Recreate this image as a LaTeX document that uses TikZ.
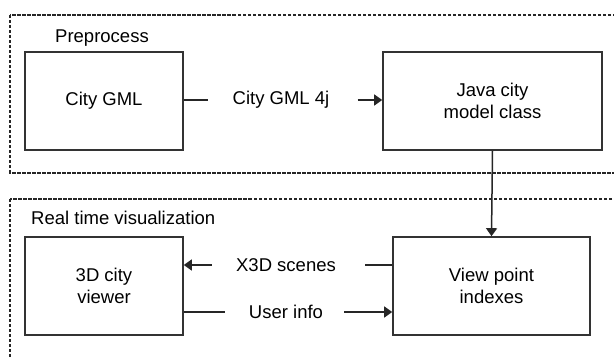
\documentclass[tikz,border=0pt]{standalone}
\usepackage{fontspec}
\setmainfont{Liberation Sans}
\usetikzlibrary{arrows.meta}
\begin{document}
\begin{tikzpicture}[x=1pt,y=-1pt,
  every node/.style={font=\fontsize{18.5}{21.5}\selectfont, inner sep=0pt},
  blk/.style={draw=black!80, line width=1.6pt, minimum width=#1, minimum height=98pt, align=center},
  grp/.style={draw=black!85, line width=1.8pt, dash pattern=on 3.5pt off 1.5pt},
  conn/.style={draw=black!85, line width=1.5pt},
  arr/.style={conn, -{Triangle[length=8pt,width=11pt]}}]
\useasboundingbox (0,0) rectangle (614,358);
\begin{scope}
\clip (0,0) rectangle (614,358);
\draw[grp] (10,15) rectangle (640,173);
\draw[grp] (10,199) rectangle (640,400);
\end{scope}
\node[anchor=west] (pre) at (55,38) {Preprocess};
\node[anchor=west] (rtv) at (31,218) {Real time visualization};
\node[blk=158pt] (cg) at (104,101) {City GML};
\node[blk=219pt] (java) at (492.5,101) {Java city\\model class};
\node[blk=158pt] (viewer) at (104,286) {3D city\\viewer};
\node[blk=197pt] (vp) at (491.5,286) {View point\\indexes};
\node (l1) at (281,100) {City GML 4j};
\node (l2) at (286,265) {X3D scenes};
\node (l3) at (286,312) {User info};
\draw[conn] (cg.east |- l1) -- ([xshift=-24pt]l1.west);
\draw[arr] ([xshift=28pt]l1.east) -- (java.west |- l1);
\draw[arr] (java.south) -- (vp.north);
\draw[conn] (vp.west |- l2) -- ([xshift=29pt]l2.east);
\draw[arr] ([xshift=-24pt]l2.west) -- (viewer.east |- l2);
\draw[conn] (viewer.east |- l3) -- ([xshift=-24pt]l3.west);
\draw[arr] ([xshift=21pt]l3.east) -- (vp.west |- l3);
\end{tikzpicture}
\end{document}
